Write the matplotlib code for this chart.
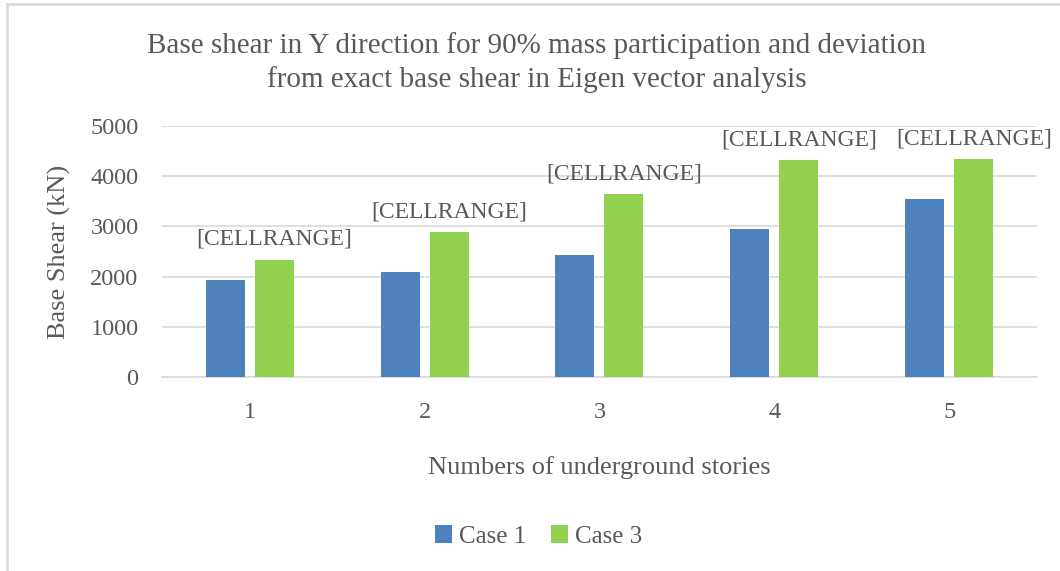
import matplotlib.pyplot as plt
import numpy as np
from matplotlib.lines import Line2D

# Values
stories = ['1', '2', '3', '4', '5']
case1 = [1935, 2095, 2430, 2955, 3555]
case3 = [2340, 2880, 3650, 4330, 4345]
bar_labels = ['[CELLRANGE]'] * 5

plt.rcParams['font.family'] = ['Liberation Serif', 'DejaVu Serif']
text_color = '#595959'
grid_color = '#D9D9D9'

fig = plt.figure(figsize=(10.6, 5.71), dpi=100)
ax = fig.add_axes([0.153, 0.340, 0.825, 0.439])

x = np.arange(1, len(stories) + 1)
w = 0.223
off = 0.14
ax.bar(x - off, case1, w, color='#4F81BD', label='Case 1', zorder=3)
bars3 = ax.bar(x + off, case3, w, color='#92D050', label='Case 3', zorder=3)

for rect, lab in zip(bars3, bar_labels):
    ax.annotate(lab, (rect.get_x() + rect.get_width() / 2, rect.get_height()),
                xytext=(0, 7), textcoords='offset points', ha='center', va='bottom',
                fontsize=17, color=text_color, annotation_clip=False)

ax.set_xlim(0.5, 5.5)
ax.set_ylim(0, 5000)
ax.set_yticks(range(0, 5001, 1000))
ax.set_xticks(x)
ax.set_xticklabels(stories)
ax.yaxis.grid(True, color=grid_color, linewidth=1.2, zorder=0)
ax.set_axisbelow(True)
for s in ['top', 'right', 'left']:
    ax.spines[s].set_visible(False)
ax.spines['bottom'].set_color(grid_color)
ax.spines['bottom'].set_linewidth(1.2)
ax.tick_params(length=0, labelsize=17.5, colors=text_color)
ax.tick_params(axis='y', pad=17)
ax.tick_params(axis='x', pad=18)

ax.set_ylabel('Base Shear (kN)', fontsize=19, color=text_color, labelpad=14)
ax.set_xlabel('Numbers of underground stories', fontsize=19, color=text_color, labelpad=24)

fig.text(0.506, 0.891, 'Base shear in Y direction for 90% mass participation and deviation\n'
         'from exact base shear in Eigen vector analysis',
         ha='center', va='center', fontsize=21, color=text_color, linespacing=1.32)

fig.legend(loc='center', bbox_to_anchor=(0.508, 0.060), ncol=2, frameon=False,
           fontsize=18, labelcolor=text_color, handlelength=0.7, handleheight=0.7,
           handletextpad=0.25, columnspacing=1.0)

# light chart-area border (left and top edges visible)
fig.add_artist(Line2D([0.0063, 0.0063], [0.0, 0.993], transform=fig.transFigure,
                      color=grid_color, linewidth=2))
fig.add_artist(Line2D([0.0063, 1.0], [0.993, 0.993], transform=fig.transFigure,
                      color=grid_color, linewidth=2))

plt.savefig('out.png', dpi=100)
